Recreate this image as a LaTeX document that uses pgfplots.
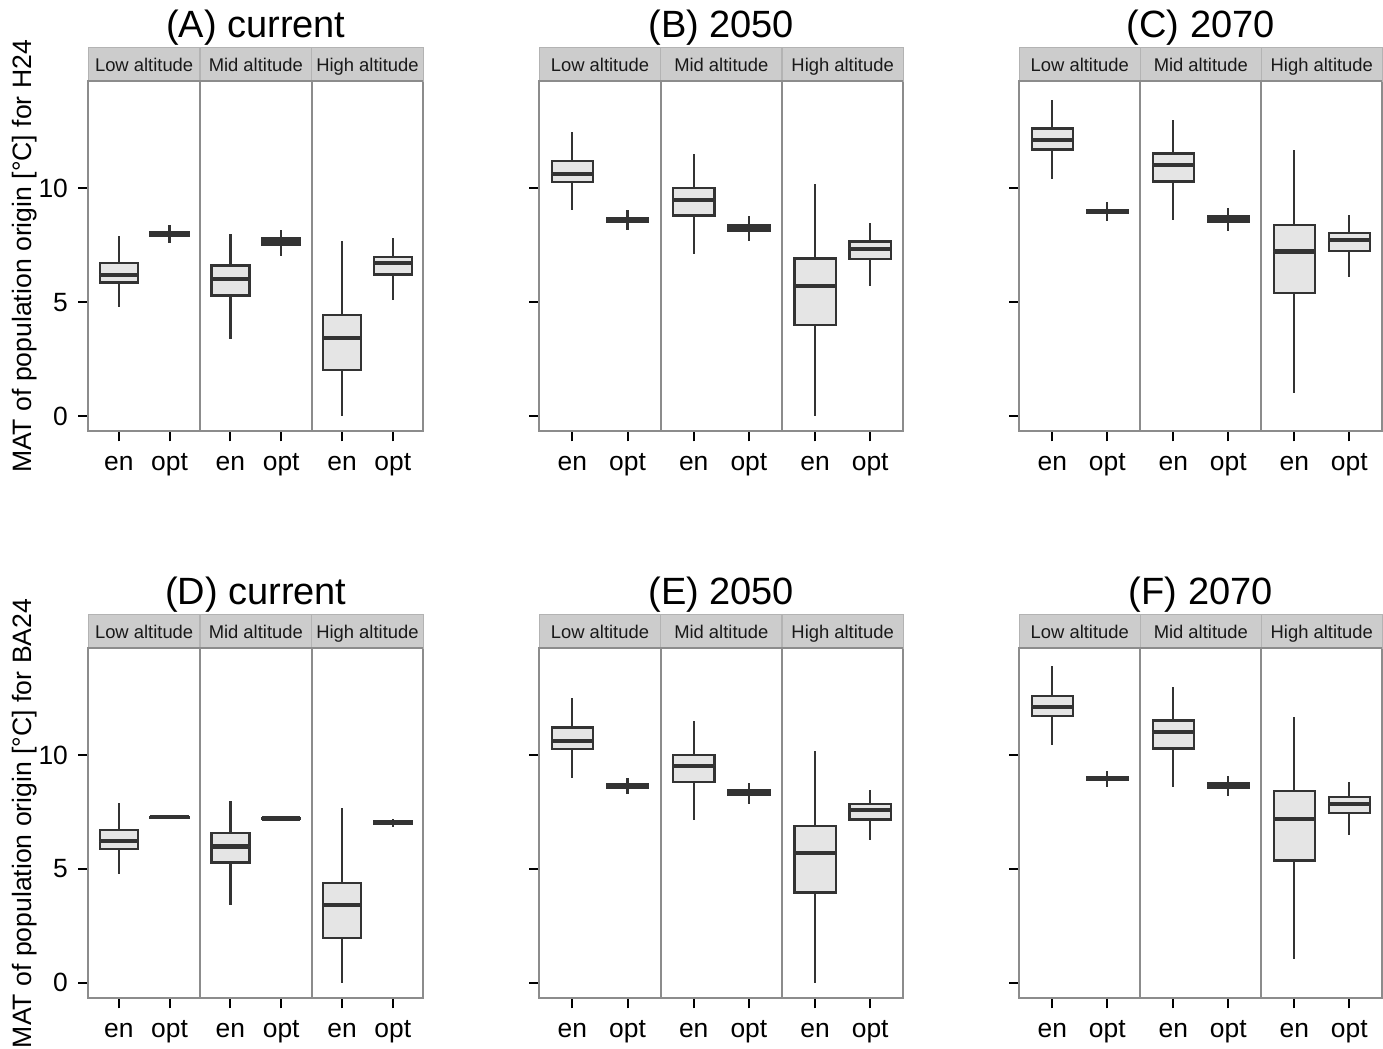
\documentclass[border=0pt]{standalone}
\usepackage{pgfplots}
\pgfplotsset{compat=1.18}
\usepgfplotslibrary{statistics}
\usepackage{fontspec}
\setmainfont{Liberation Sans}

\definecolor{boxline}{HTML}{333333}
\definecolor{boxfill}{HTML}{E5E5E5}
\definecolor{frame}{HTML}{8C8C8C}
\definecolor{stripfill}{HTML}{CCCCCC}
\definecolor{stripline}{HTML}{B3B3B3}

\newcommand{\titlefont}{\fontsize{19}{22}\selectfont}
\newcommand{\stripfont}{\fontsize{9.2}{11}\selectfont}
\newcommand{\tickfont}{\fontsize{13.2}{15}\selectfont}

\pgfplotsset{
  facetpanel/.style={
    anchor=south west, scale only axis, height=175pt,
    xmin=0.4, xmax=7.0, ymin=-0.68, ymax=14.68,
    clip=false,
    axis line style={draw=frame, line width=1pt},
    tick pos=left, tick align=outside,
    major tick length=5pt,
    tick style={black, line width=1pt},
    xtick={1,2,3.2,4.2,5.4,6.4},
    xticklabels={en,opt,en,opt,en,opt},
    ytick={0,5,10},
    /pgf/number format/assume math mode=true,
    ticklabel style={font=\tickfont, text=black},
    xticklabel style={anchor=base, yshift=-14.5pt},
    yticklabel style={anchor=east, inner sep=0pt, xshift=-5pt},
    boxplot/draw direction=y,
    boxplot/box extend=0.75,
    boxplot/whisker extend=0,
    boxplot/every whisker/.style={line width=1.1pt},
    boxplot/every median/.style={line width=2.1pt},
  },
  bp/.style={draw=boxline, fill=boxfill, line width=1.15pt},
}

\newcommand{\bx}[6]{\addplot[bp, boxplot prepared={draw position=#1, lower whisker=#2, lower quartile=#3, median=#4, upper quartile=#5, upper whisker=#6}] coordinates {};}

\newcommand{\facetdeco}[1]{%
  \draw[draw=stripline, fill=stripfill, line width=0.6pt] (rel axis cs:0,1) rectangle ([yshift=17pt]rel axis cs:1,1);
  \draw[stripline, line width=0.6pt] (rel axis cs:0.33333,1) -- ([yshift=17pt]rel axis cs:0.33333,1);
  \draw[stripline, line width=0.6pt] (rel axis cs:0.66667,1) -- ([yshift=17pt]rel axis cs:0.66667,1);
  \draw[frame, line width=1pt] (rel axis cs:0,1) -- (rel axis cs:1,1);
  \draw[frame, line width=1pt] (rel axis cs:0.33333,0) -- (rel axis cs:0.33333,1);
  \draw[frame, line width=1pt] (rel axis cs:0.66667,0) -- (rel axis cs:0.66667,1);
  \node[font=\stripfont, anchor=base, text=black!90] at ([yshift=4.75pt]rel axis cs:0.16667,1) {Low altitude};
  \node[font=\stripfont, anchor=base, text=black!90] at ([yshift=4.75pt]rel axis cs:0.5,1) {Mid altitude};
  \node[font=\stripfont, anchor=base, text=black!90] at ([yshift=4.75pt]rel axis cs:0.83333,1) {High altitude};
  \node[font=\titlefont, anchor=base] at ([yshift=22pt]rel axis cs:0.5,1) {#1};
}

\begin{document}
\begin{tikzpicture}
\useasboundingbox (0,0) rectangle (691.5pt,524.5pt);

% (A)
\begin{axis}[facetpanel, at={(44.15pt,308.75pt)}, width=167.5pt]
\bx{1}{4.80}{5.86}{6.19}{6.71}{7.91}
\bx{2}{7.61}{7.89}{7.98}{8.07}{8.37}
\bx{3.2}{3.38}{5.29}{6.00}{6.60}{7.98}
\bx{4.2}{7.00}{7.52}{7.64}{7.79}{8.17}
\bx{5.4}{0.00}{2.02}{3.41}{4.42}{7.69}
\bx{6.4}{5.07}{6.21}{6.71}{6.98}{7.82}
\facetdeco{(A) current}
\end{axis}

% (B)
\begin{axis}[facetpanel, at={(269.65pt,308.75pt)}, width=182pt, yticklabels={}]
\bx{1}{9.02}{10.28}{10.63}{11.20}{12.46}
\bx{2}{8.17}{8.53}{8.61}{8.69}{9.02}
\bx{3.2}{7.10}{8.80}{9.49}{10.00}{11.49}
\bx{4.2}{7.67}{8.14}{8.26}{8.38}{8.76}
\bx{5.4}{0.00}{4.00}{5.71}{6.91}{10.18}
\bx{6.4}{5.72}{6.88}{7.34}{7.66}{8.46}
\facetdeco{(B) 2050}
\end{axis}

% (C)
\begin{axis}[facetpanel, at={(509.65pt,308.75pt)}, width=181.5pt, yticklabels={}]
\bx{1}{10.40}{11.70}{12.12}{12.62}{13.88}
\bx{2}{8.55}{8.90}{8.97}{9.04}{9.41}
\bx{3.2}{8.61}{10.29}{11.02}{11.52}{12.97}
\bx{4.2}{8.10}{8.54}{8.65}{8.75}{9.15}
\bx{5.4}{1.00}{5.40}{7.22}{8.37}{11.67}
\bx{6.4}{6.11}{7.23}{7.72}{8.02}{8.81}
\facetdeco{(C) 2070}
\end{axis}

% (D)
\begin{axis}[facetpanel, at={(44.15pt,25.35pt)}, width=167.5pt]
\bx{1}{4.79}{5.87}{6.22}{6.70}{7.87}
\bx{2}{7.24}{7.25}{7.27}{7.29}{7.31}
\bx{3.2}{3.40}{5.28}{5.98}{6.58}{7.99}
\bx{4.2}{7.18}{7.19}{7.21}{7.23}{7.24}
\bx{5.4}{0.00}{1.96}{3.40}{4.37}{7.67}
\bx{6.4}{6.83}{6.98}{7.04}{7.09}{7.20}
\facetdeco{(D) current}
\end{axis}

% (E)
\begin{axis}[facetpanel, at={(269.65pt,25.35pt)}, width=182pt, yticklabels={}]
\bx{1}{9.00}{10.26}{10.62}{11.20}{12.49}
\bx{2}{8.27}{8.56}{8.62}{8.70}{8.99}
\bx{3.2}{7.13}{8.80}{9.52}{10.01}{11.47}
\bx{4.2}{7.84}{8.25}{8.36}{8.44}{8.77}
\bx{5.4}{0.00}{3.96}{5.69}{6.88}{10.18}
\bx{6.4}{6.25}{7.16}{7.60}{7.84}{8.48}
\facetdeco{(E) 2050}
\end{axis}

% (F)
\begin{axis}[facetpanel, at={(509.65pt,25.35pt)}, width=181.5pt, yticklabels={}]
\bx{1}{10.43}{11.70}{12.11}{12.60}{13.90}
\bx{2}{8.61}{8.89}{8.96}{9.01}{9.28}
\bx{3.2}{8.61}{10.28}{11.00}{11.51}{12.99}
\bx{4.2}{8.18}{8.56}{8.67}{8.76}{9.06}
\bx{5.4}{1.03}{5.37}{7.18}{8.42}{11.67}
\bx{6.4}{6.50}{7.46}{7.86}{8.15}{8.83}
\facetdeco{(F) 2070}
\end{axis}

\node[rotate=90, anchor=base, font=\fontsize{13.3}{16}\selectfont] at (16pt,396.25pt) {MAT of population origin [°C] for H24};
\node[rotate=90, anchor=base, font=\fontsize{13.3}{16}\selectfont] at (16pt,112.75pt) {MAT of population origin [°C] for BA24};
\end{tikzpicture}
\end{document}
